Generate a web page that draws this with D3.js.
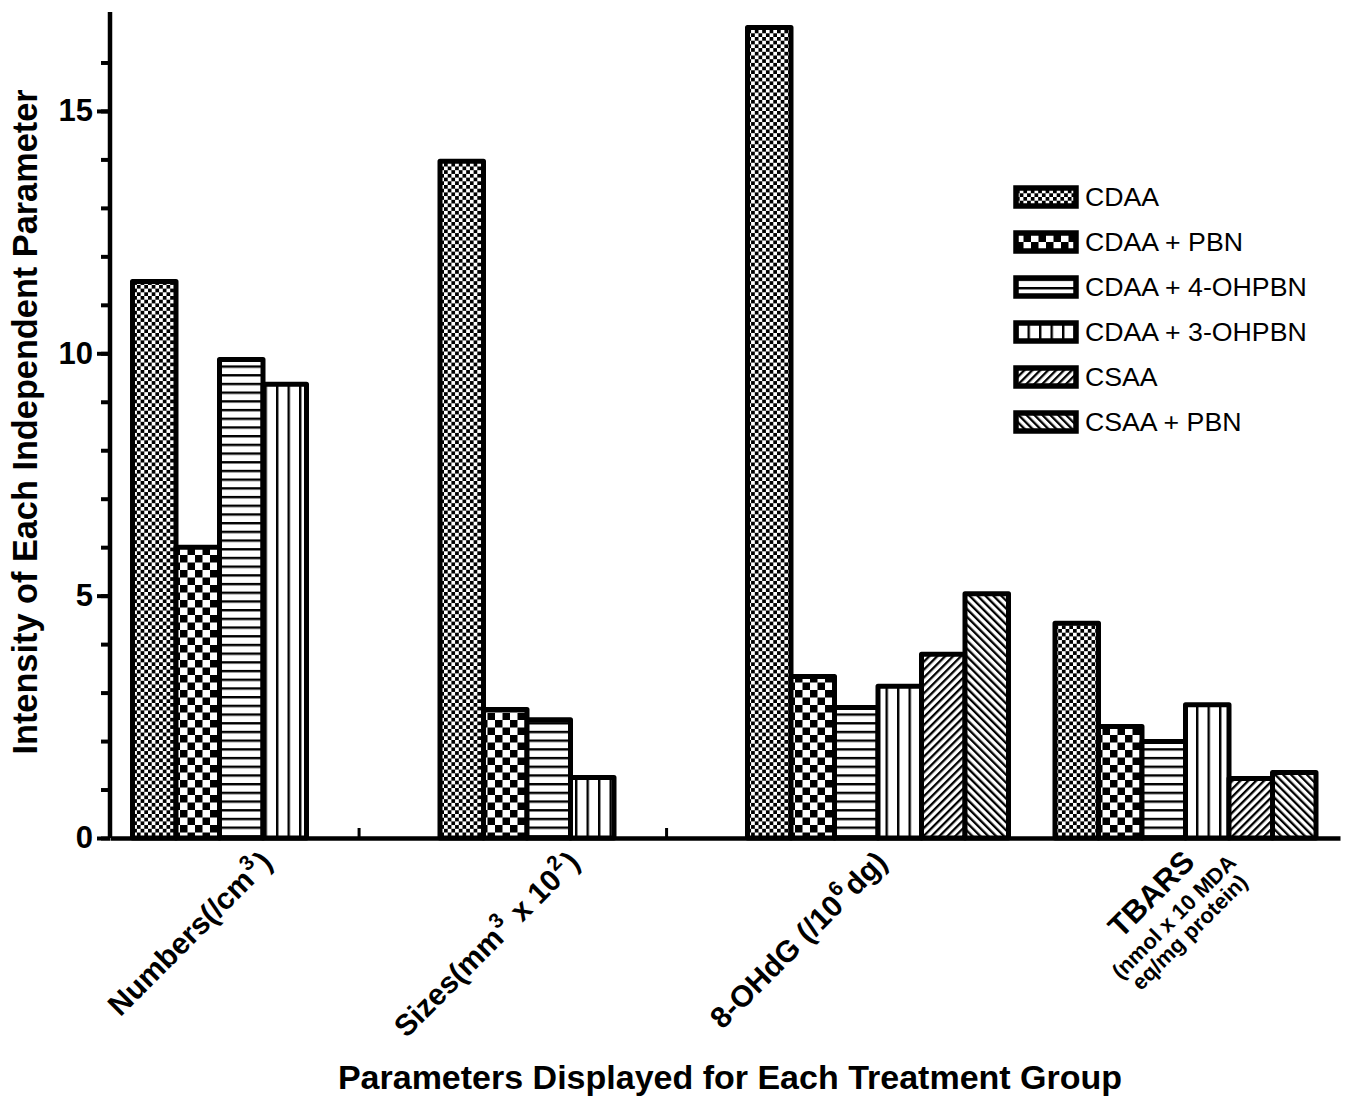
<!DOCTYPE html>
<html>
<head>
<meta charset="utf-8">
<script src="https://cdn.jsdelivr.net/npm/d3@7"></script>
<style>
  body { margin: 0; background: #fff; }
  svg { display: block; font-family: "Liberation Sans", Arial, sans-serif; }
</style>
</head>
<body>
<svg id="chart"></svg>
<script>
// data
const categories = ['Numbers', 'Sizes', '8-OHdG', 'TBARS'];
const seriesNames = ['CDAA', 'CDAA + PBN', 'CDAA + 4-OHPBN', 'CDAA + 3-OHPBN', 'CSAA', 'CSAA + PBN'];
const cdaa      = [11.48, 13.96, 16.72, 4.43];
const cdaaPbn   = [6.0, 2.65, 3.33, 2.30];
const cdaa4oh   = [9.87, 2.44, 2.69, 1.99];
const cdaa3oh   = [9.36, 1.25, 3.13, 2.75];
const csaa      = [null, null, 3.79, 1.23];
const csaaPbn   = [null, null, 5.04, 1.35];
const yMajorTicks = [0, 5, 10, 15];
const yMinorTicks = d3.range(0, 17);
// x tick labels, one array of lines per category, each line a list of pieces
const categoryLabels = [
  [[{t: 'Numbers(/cm'}, {t: '3', sup: true}, {t: ')'}]],
  [[{t: 'Sizes(mm'}, {t: '3', sup: true}, {t: ' x 10'}, {t: '2', sup: true}, {t: ')'}]],
  [[{t: '8-OHdG (/10'}, {t: '6', sup: true}, {t: 'dg)'}]],
  [[{t: 'TBARS'}], [{t: '(nmol x 10 MDA'}], [{t: 'eq/mg protein)'}]]
];

const allSeries = [cdaa, cdaaPbn, cdaa4oh, cdaa3oh, csaa, csaaPbn];
const patternIds = ['chkFine', 'chkBig', 'hLines', 'vLines', 'diagUp', 'diagDown'];

const W = 1355, H = 1097;
const svg = d3.select('#chart').attr('width', W).attr('height', H);
svg.append('rect').attr('width', W).attr('height', H).attr('fill', '#fff');

// patterns
const defs = svg.append('defs');
function pat(id, w, h, tr) {
  const p = defs.append('pattern').attr('id', id)
    .attr('patternUnits', 'userSpaceOnUse')
    .attr('width', w).attr('height', h);
  if (tr) p.attr('patternTransform', tr);
  p.append('rect').attr('width', w).attr('height', h).attr('fill', '#fff');
  return p;
}
let p = pat('chkFine', 7.4, 7.4);
p.append('rect').attr('width', 3.7).attr('height', 3.7).attr('fill', '#000');
p.append('rect').attr('x', 3.7).attr('y', 3.7).attr('width', 3.7).attr('height', 3.7).attr('fill', '#000');
p = pat('chkBig', 15, 15);
p.append('rect').attr('width', 7.5).attr('height', 7.5).attr('fill', '#000');
p.append('rect').attr('x', 7.5).attr('y', 7.5).attr('width', 7.5).attr('height', 7.5).attr('fill', '#000');
p = pat('hLines', 10, 8.7);
p.append('rect').attr('y', 0).attr('width', 10).attr('height', 2.4).attr('fill', '#000');
p = pat('vLines', 11.5, 10);
p.append('rect').attr('x', 0).attr('width', 2.4).attr('height', 10).attr('fill', '#000');
p = pat('diagUp', 5.6, 10, 'rotate(45)');
p.append('rect').attr('width', 2.3).attr('height', 10).attr('fill', '#000');
p = pat('diagDown', 5.6, 10, 'rotate(-45)');
p.append('rect').attr('width', 2.3).attr('height', 10).attr('fill', '#000');

// scales
const x0 = 110, x1 = 1340, yBase = 838, yTop = 12;
const xGroup = d3.scaleBand().domain(categories).range([x0, x1]).padding(0);
const xSub = d3.scaleBand().domain(seriesNames).range([22.5, 22.5 + 261]).padding(0);
const y = d3.scaleLinear().domain([0, 17]).range([yBase, yTop + 2]);

// bars
const rows = [];
categories.forEach((c, ci) => {
  allSeries.forEach((s, si) => {
    if (s[ci] != null) rows.push({cat: c, name: seriesNames[si], value: s[ci], pid: patternIds[si]});
  });
});
svg.append('g').selectAll('rect')
  .data(rows)
  .enter().append('rect')
    .attr('x', d => xGroup(d.cat) + xSub(d.name))
    .attr('y', d => y(d.value))
    .attr('width', xSub.bandwidth())
    .attr('height', d => yBase - y(d.value))
    .attr('fill', d => 'url(#' + d.pid + ')')
    .attr('stroke', '#000')
    .attr('stroke-width', 5)
    .attr('stroke-linejoin', 'round');

// y axis
const yAxisG = svg.append('g').attr('transform', 'translate(' + x0 + ',0)');
yAxisG.append('g')
  .call(d3.axisLeft(y).tickValues(yMinorTicks).tickSize(9).tickSizeOuter(0).tickFormat(''))
  .call(g => g.select('.domain').remove())
  .selectAll('line').attr('stroke-width', 4);
const yMaj = yAxisG.append('g')
  .call(d3.axisLeft(y).tickValues(yMajorTicks).tickSize(13).tickSizeOuter(0).tickPadding(4));
yMaj.select('.domain').attr('d', 'M0,' + yBase + 'V' + yTop).attr('stroke-width', 4.5);
yMaj.selectAll('line').attr('stroke-width', 4);
yMaj.selectAll('text')
  .attr('font-size', 31).attr('font-weight', 'bold')
  .attr('font-family', '"Liberation Sans", Arial, sans-serif').attr('fill', '#000');

// x axis
const xAxisG = svg.append('g').attr('transform', 'translate(0,' + yBase + ')');
xAxisG.call(d3.axisBottom(xGroup).tickSize(0).tickSizeOuter(0).tickFormat(''))
  .select('.domain').attr('stroke-width', 4.5);
// small inner ticks where a category has missing series
categories.forEach((c, ci) => {
  if (csaa[ci] == null) {
    const tx = xGroup(c) + xGroup.bandwidth() * 0.81;
    xAxisG.append('line').attr('x1', tx).attr('x2', tx).attr('y1', 0).attr('y2', -10)
      .attr('stroke', '#000').attr('stroke-width', 3);
  }
});

// category labels
categoryLabels.forEach((lines, ci) => {
  const cx = xGroup(categories[ci]) + xGroup.bandwidth() / 2;
  const multi = lines.length > 1;
  const g = svg.append('g')
    .attr('transform', multi
      ? 'translate(' + (cx - 7) + ',922) rotate(-45)'
      : 'translate(' + (cx + 10) + ',864) rotate(-45)');
  lines.forEach((pieces, li) => {
    const fs = multi ? (li === 0 ? 31 : 22) : 30;
    const ly = multi ? [-29, 0, 22][li] : 0;
    const t = g.append('text')
      .attr('y', ly)
      .attr('text-anchor', multi ? 'middle' : 'end')
      .attr('font-size', fs).attr('font-weight', 'bold').attr('fill', '#000');
    pieces.forEach(pc => {
      if (pc.sup) {
        t.append('tspan').attr('dy', -13).attr('font-size', 21).attr('dx', 1).text(pc.t);
        t.append('tspan').attr('dy', 13).text('\u200A');
      } else {
        t.append('tspan').text(pc.t);
      }
    });
  });
});

// axis titles
svg.append('text')
  .attr('transform', 'translate(37,' + 422 + ') rotate(-90)')
  .attr('text-anchor', 'middle')
  .attr('font-size', 34.3).attr('font-weight', 'bold')
  .text('Intensity of Each Independent Parameter');
svg.append('text')
  .attr('x', 730).attr('y', 1089)
  .attr('text-anchor', 'middle')
  .attr('font-size', 34).attr('font-weight', 'bold')
  .text('Parameters Displayed for Each Treatment Group');

// legend
const legend = svg.append('g').selectAll('g')
  .data(seriesNames)
  .enter().append('g')
    .attr('transform', (d, i) => 'translate(1016,' + (197 + i * 45) + ')');
legend.append('rect')
  .attr('x', 0).attr('y', -9).attr('width', 60).attr('height', 18)
  .attr('fill', (d, i) => 'url(#' + patternIds[i] + ')')
  .attr('stroke', '#000').attr('stroke-width', 5.5);
legend.append('text')
  .attr('x', 69).attr('y', 9)
  .attr('font-size', 26.7).attr('fill', '#000')
  .text(d => d);
</script>
</body>
</html>
